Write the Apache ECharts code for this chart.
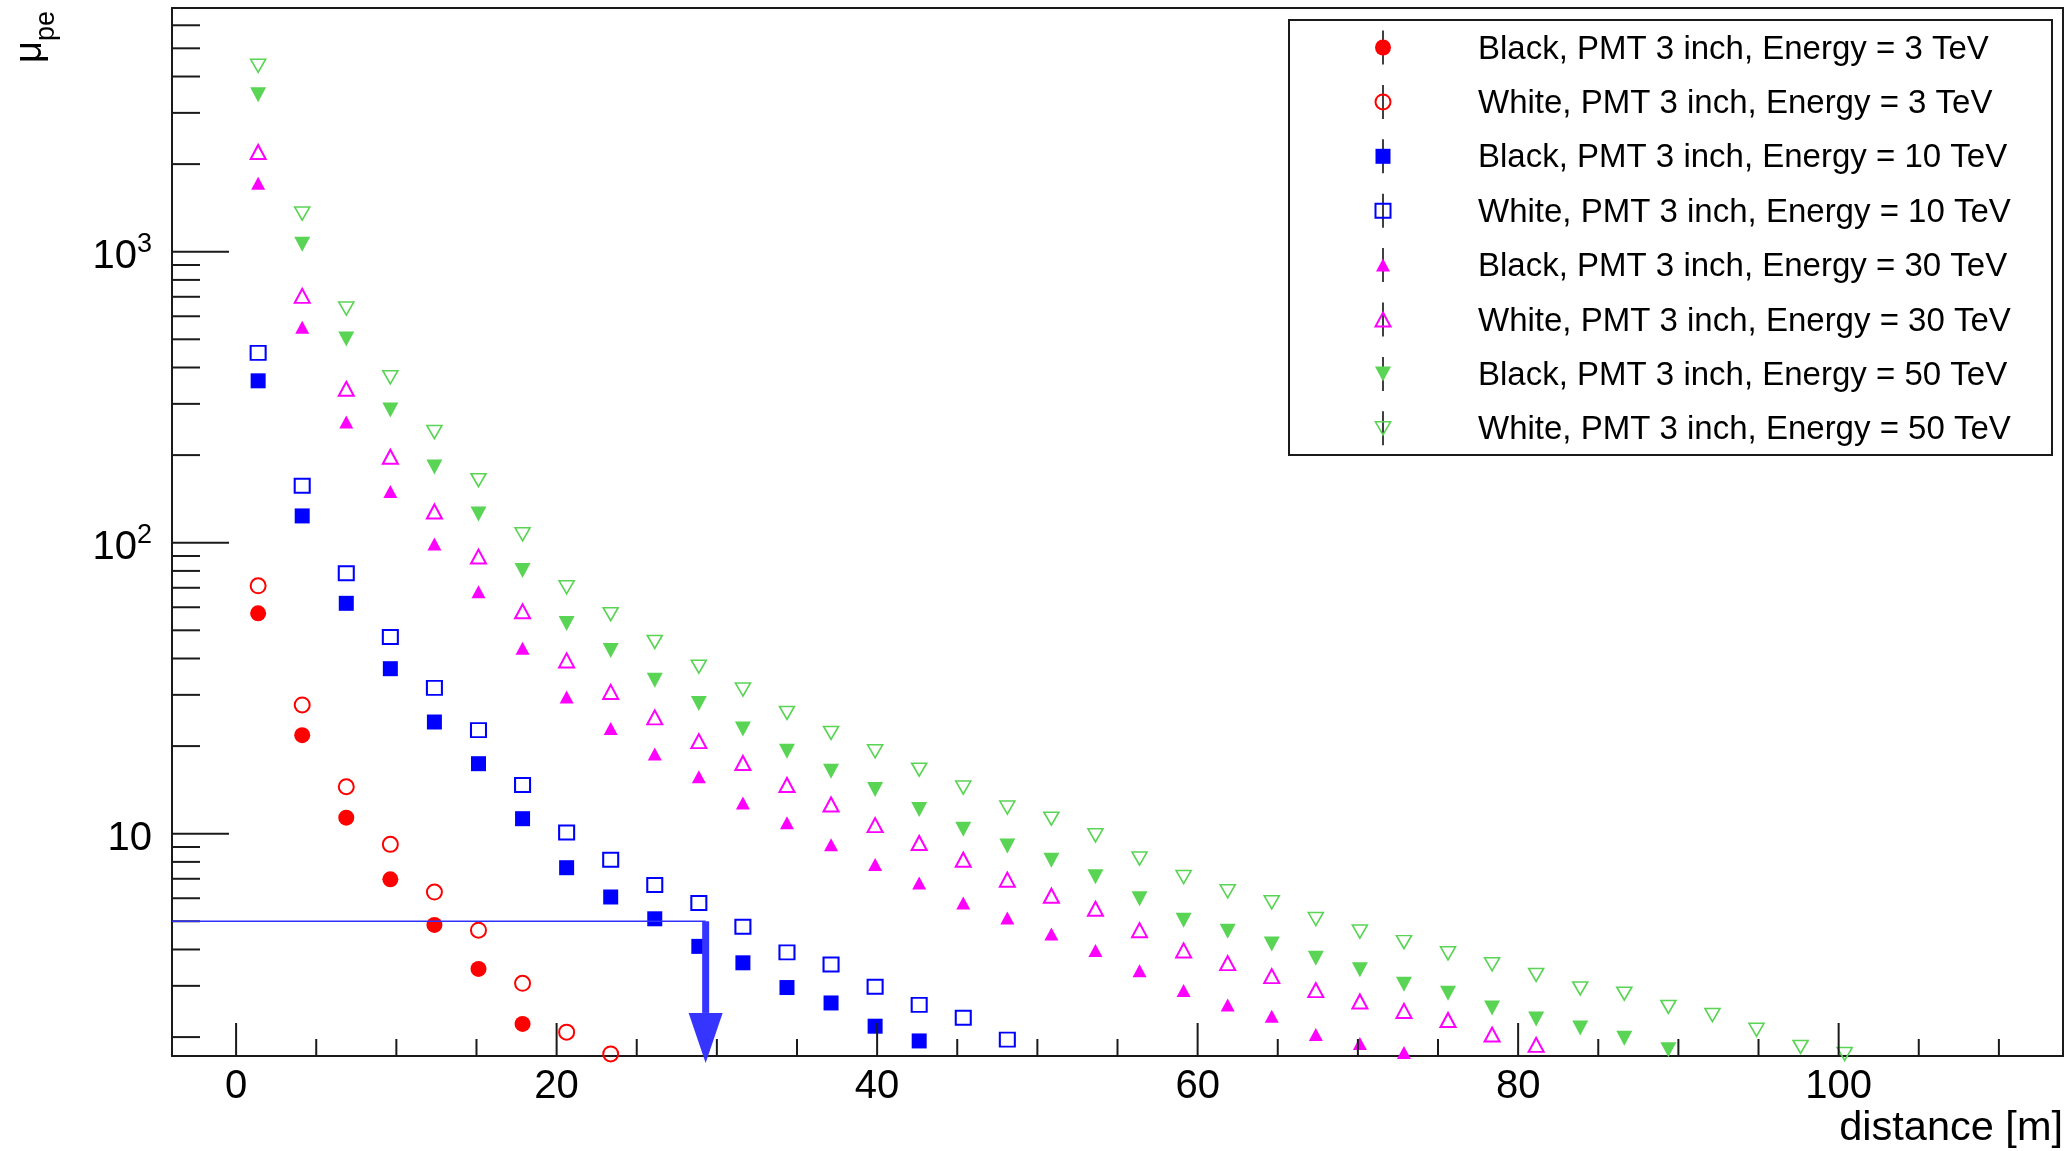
<!DOCTYPE html>
<html>
<head>
<meta charset="utf-8">
<script src="https://cdn.jsdelivr.net/npm/echarts@6/dist/echarts.min.js"></script>
<style>
html,body{margin:0;padding:0;background:#fff;}
#chart{width:2071px;height:1151px;}
</style>
</head>
<body>
<div id="chart"></div>
<script>
// ---------------- data ----------------
const distance = [1.375, 4.125, 6.875, 9.625, 12.375, 15.125, 17.875, 20.625, 23.375, 26.125,
  28.875, 31.625, 34.375, 37.125, 39.875, 42.625, 45.375, 48.125, 50.875, 53.625,
  56.375, 59.125, 61.875, 64.625, 67.375, 70.125, 72.875, 75.625, 78.375, 81.125,
  83.875, 86.625, 89.375, 92.125, 94.875, 97.625, 100.375];

const blackE3  = [57.2, 21.8, 11.35, 6.97, 4.86, 3.43, 2.22];
const whiteE3  = [71.1, 27.7, 14.5, 9.19, 6.30, 4.66, 3.06, 2.08, 1.75];
const blackE10 = [360, 123.6, 61.9, 36.9, 24.2, 17.4, 11.26, 7.64, 6.06, 5.10, 4.10, 3.60, 2.96, 2.62, 2.18, 1.94];
const whiteE10 = [449, 157, 78.5, 47.4, 31.7, 22.7, 14.7, 10.1, 8.14, 6.66, 5.78, 4.79, 3.91, 3.55, 2.98, 2.58, 2.33, 1.96];
const blackE30 = [1718, 550, 260, 150, 99, 67.9, 43.4, 29.5, 23.0, 18.8, 15.7, 12.75, 10.9, 9.17, 7.83, 6.77, 5.78, 5.13, 4.52, 3.97, 3.38, 2.89, 2.58, 2.36, 2.04, 1.90, 1.77];
const whiteE30 = [2202, 705, 338, 197.5, 128, 89.6, 58.1, 39.4, 30.7, 25.1, 20.8, 17.5, 14.7, 12.6, 10.7, 9.29, 8.14, 6.95, 6.12, 5.52, 4.66, 3.97, 3.59, 3.24, 2.90, 2.65, 2.46, 2.29, 2.04, 1.88];
const blackE50 = [3460, 1060, 501, 286, 182, 125.5, 80.2, 52.8, 42.6, 33.7, 28.0, 22.9, 19.2, 16.4, 14.2, 12.1, 10.35, 9.07, 8.10, 7.11, 5.98, 5.04, 4.62, 4.18, 3.73, 3.41, 3.04, 2.83, 2.52, 2.31, 2.15, 1.98, 1.81];
const whiteE50 = [4356, 1352, 638, 370, 240, 164, 106.9, 70.3, 56.8, 45.6, 37.5, 31.3, 26.0, 22.2, 19.2, 16.6, 14.4, 12.3, 11.26, 9.87, 8.21, 7.10, 6.34, 5.81, 5.09, 4.61, 4.24, 3.88, 3.56, 3.27, 2.94, 2.82, 2.54, 2.38, 2.12, 1.85, 1.75];

const seriesNames = [
  'Black, PMT 3 inch, Energy = 3 TeV',
  'White, PMT 3 inch, Energy = 3 TeV',
  'Black, PMT 3 inch, Energy = 10 TeV',
  'White, PMT 3 inch, Energy = 10 TeV',
  'Black, PMT 3 inch, Energy = 30 TeV',
  'White, PMT 3 inch, Energy = 30 TeV',
  'Black, PMT 3 inch, Energy = 50 TeV',
  'White, PMT 3 inch, Energy = 50 TeV'
];
const seriesValues = [blackE3, whiteE3, blackE10, whiteE10, blackE30, whiteE30, blackE50, whiteE50];

// threshold marker: horizontal line at mu=5 to the crossing distance, arrow down
const thresholdPoint = [29.3, 5];
const arrowEndValue = [1.63];

// axes
const X_MIN = -4, X_MAX = 114;
const Y_MIN = 1.722, Y_MAX = 6879;
const xLabelValues = [0, 20, 40, 60, 80, 100];
const yLabelValues = [10, 100, 1000];
const xMajorTicks = [0, 20, 40, 60, 80, 100];
const xMinorTicks = [5, 10, 15, 25, 30, 35, 45, 50, 55, 65, 70, 75, 85, 90, 95, 105, 110];
const yMajorTicks = [10, 100, 1000];
const yMinorTicks = [2, 3, 4, 5, 6, 7, 8, 9, 20, 30, 40, 50, 60, 70, 80, 90,
  200, 300, 400, 500, 600, 700, 800, 900, 2000, 3000, 4000, 5000, 6000];

// ---------------- styles ----------------
const FONT = '"Liberation Sans", Arial, Helvetica, sans-serif';
const GREEN = '#59d454';
const markerDefs = [
  {symbol: 'circle',   size: [16, 16], color: '#ff0000', filled: true},
  {symbol: 'circle',   size: [15, 15], color: '#ff0000', filled: false, lw: 2},
  {symbol: 'rect',     size: [15, 15], color: '#0000ff', filled: true},
  {symbol: 'rect',     size: [15, 14], color: '#0000ff', filled: false, lw: 2},
  {symbol: 'triangle', size: [14, 13], color: '#ff00ff', filled: true},
  {symbol: 'triangle', size: [15, 14], color: '#ff00ff', filled: false, lw: 2},
  {symbol: 'triangle', size: [16, 15], color: GREEN, filled: true, rotate: 180},
  {symbol: 'triangle', size: [15, 13], color: GREEN, filled: false, lw: 1.6, rotate: 180}
];

const scatterSeries = seriesValues.map((vals, i) => {
  const d = markerDefs[i];
  return {
    name: seriesNames[i],
    type: 'scatter',
    clip: false,
    z: 5,
    symbol: d.symbol,
    symbolSize: d.size,
    symbolRotate: d.rotate || 0,
    itemStyle: d.filled
      ? {color: d.color, opacity: 1}
      : {color: 'rgba(255,255,255,0)', borderColor: d.color, borderWidth: d.lw, opacity: 1},
    emphasis: {disabled: true},
    data: vals.map((v, k) => [distance[k], v])
  };
});

// tick data: [x, y, kind] kind 0=x major,1=x minor,2=y major,3=y minor
const tickData = []
  .concat(xMajorTicks.map(v => [v, Y_MIN, 0]))
  .concat(xMinorTicks.map(v => [v, Y_MIN, 1]))
  .concat(yMajorTicks.map(v => [X_MIN, v, 2]))
  .concat(yMinorTicks.map(v => [X_MIN, v, 3]));

const tickSeries = {
  type: 'custom',
  silent: true,
  z: 6,
  encode: {x: 0, y: 1},
  data: tickData,
  renderItem: function (params, api) {
    const kind = api.value(2);
    const p = api.coord([api.value(0), api.value(1)]);
    let x2 = p[0], y2 = p[1];
    if (kind === 0) y2 -= 33;
    else if (kind === 1) y2 -= 17;
    else if (kind === 2) x2 += 57;
    else x2 += 28;
    return {type: 'line', shape: {x1: p[0], y1: p[1], x2: x2, y2: y2},
            style: {stroke: '#1a1a1a', lineWidth: 2}};
  }
};

const arrowSeries = {
  type: 'custom',
  silent: true,
  z: 7,
  encode: {x: 0, y: 1},
  data: [[thresholdPoint[0], thresholdPoint[1], arrowEndValue[0]]],
  renderItem: function (params, api) {
    const p = api.coord([api.value(0), api.value(1)]);
    const pl = api.coord([X_MIN, api.value(1)]);
    const pt = api.coord([api.value(0), api.value(2)]);
    const headLen = 50, headW = 34, shaft = 7;
    return {
      type: 'group',
      children: [
        {type: 'line', shape: {x1: pl[0], y1: p[1], x2: p[0], y2: p[1]},
         style: {stroke: '#3030ff', lineWidth: 1.5}},
        {type: 'rect', shape: {x: p[0] - shaft / 2, y: p[1], width: shaft, height: pt[1] - headLen - p[1]},
         style: {fill: '#3535ff'}},
        {type: 'polygon', shape: {points: [[p[0] - headW / 2, pt[1] - headLen], [p[0] + headW / 2, pt[1] - headLen], [p[0], pt[1]]]},
         style: {fill: '#3535ff'}}
      ]
    };
  }
};

// ---------------- legend (graphic) ----------------
function legendMarker(def, cx, cy) {
  const w = def.size[0], h = def.size[1];
  const style = def.filled ? {fill: def.color} : {fill: 'none', stroke: def.color, lineWidth: def.lw};
  if (def.symbol === 'circle') return {type: 'circle', shape: {cx: cx, cy: cy, r: w / 2}, style: style};
  if (def.symbol === 'rect') return {type: 'rect', shape: {x: cx - w / 2, y: cy - h / 2, width: w, height: h}, style: style};
  const pts = def.rotate
    ? [[cx - w / 2, cy - h / 2], [cx + w / 2, cy - h / 2], [cx, cy + h / 2]]
    : [[cx, cy - h / 2], [cx + w / 2, cy + h / 2], [cx - w / 2, cy + h / 2]];
  return {type: 'polygon', shape: {points: pts}, style: style};
}

const legendBox = {x: 1289, y: 20, w: 763, h: 435};
const legendEls = [{type: 'rect', shape: {x: legendBox.x, y: legendBox.y, width: legendBox.w, height: legendBox.h},
  style: {fill: '#fff', stroke: '#1a1a1a', lineWidth: 2}}];
seriesNames.forEach((name, i) => {
  const cy = 47.5 + 54.4 * i;
  const cx = 1383;
  legendEls.push({type: 'line', shape: {x1: cx, y1: cy - 17, x2: cx, y2: cy + 17}, style: {stroke: '#000', lineWidth: 1.5}});
  legendEls.push(legendMarker(markerDefs[i], cx, cy));
  legendEls.push({type: 'text', style: {text: name, x: 1478, y: cy + 2, font: '33px ' + FONT, fill: '#000', align: 'left', verticalAlign: 'middle'}});
});

const chart = echarts.init(document.getElementById('chart'), null, {renderer: 'canvas', width: 2071, height: 1151});

const option = {
  backgroundColor: '#fff',
  animation: false,
  grid: {left: 172, top: 8, right: 8, bottom: 95, containLabel: false, outerBoundsMode: 'none',
         show: true, borderColor: '#1a1a1a', borderWidth: 2, backgroundColor: 'rgba(0,0,0,0)'},
  xAxis: {
    type: 'value', min: X_MIN, max: X_MAX,
    axisLine: {show: false}, axisTick: {show: false}, splitLine: {show: false},
    axisLabel: {
      margin: 11, fontSize: 40, color: '#000', fontFamily: FONT,
      formatter: function (v) { return xLabelValues.some(t => Math.abs(t - v) < 1e-6) ? String(v) : ''; }
    }
  },
  yAxis: {
    type: 'log', logBase: 10, min: Y_MIN, max: Y_MAX,
    axisLine: {show: false}, axisTick: {show: false}, splitLine: {show: false},
    axisLabel: {
      margin: 20, color: '#000', fontFamily: FONT, fontSize: 40, padding: [10, 0, 0, 0],
      formatter: function (v) {
        const hit = yLabelValues.find(t => Math.abs(t - v) / t < 1e-6);
        if (!hit) return '';
        const e = Math.round(Math.log10(hit));
        return e === 1 ? '{b|10}' : '{b|10}{sup|' + e + '}';
      },
      rich: {
        b: {fontSize: 40, lineHeight: 40, verticalAlign: 'bottom', fontFamily: FONT, color: '#000'},
        sup: {fontSize: 27, lineHeight: 27, verticalAlign: 'bottom', padding: [0, 0, 19, 0], fontFamily: FONT, color: '#000'}
      }
    }
  },
  graphic: [
    {type: 'group', children: legendEls},
    {type: 'text', style: {text: 'distance [m]', x: 2063, y: 1150, font: '41.5px ' + FONT, fill: '#000', align: 'right', verticalAlign: 'bottom'}},
    {type: 'group', x: 31, y: 63, rotation: Math.PI / 2, children: [
      {type: 'text', style: {text: 'μ', x: 0, y: 0, font: '38px ' + FONT, fill: '#000', align: 'left', verticalAlign: 'middle'}},
      {type: 'text', style: {text: 'pe', x: 22, y: 16, font: '27px ' + FONT, fill: '#000', align: 'left', verticalAlign: 'middle'}}
    ]}
  ],
  series: scatterSeries.concat([tickSeries, arrowSeries])
};
chart.setOption(option);
</script>
</body>
</html>
